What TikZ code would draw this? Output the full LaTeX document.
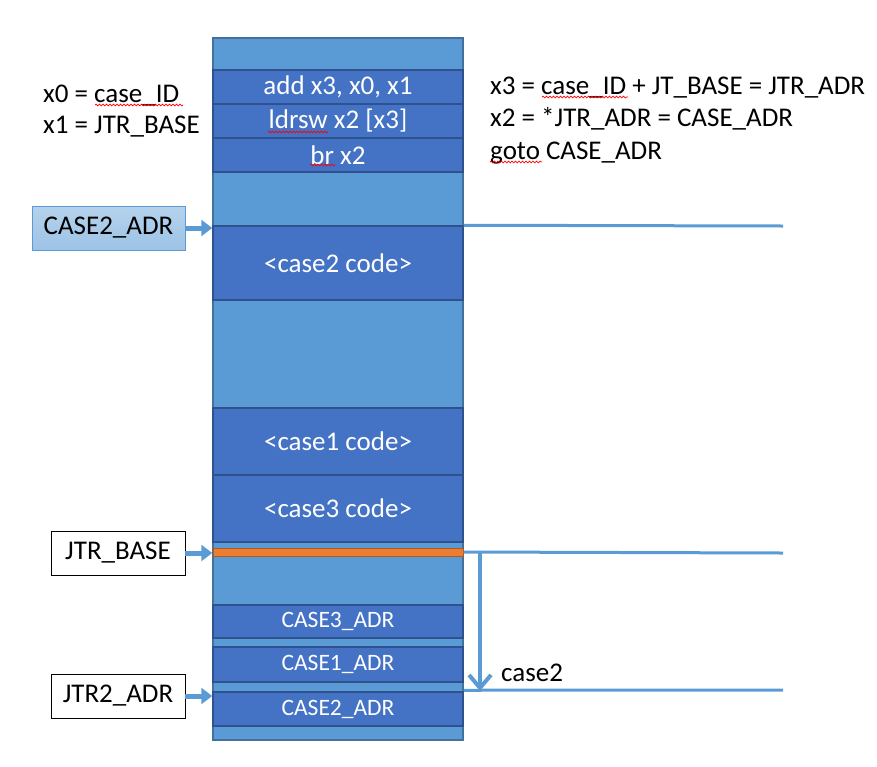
\documentclass[tikz,border=0pt]{standalone}
\usepackage{fontspec}
\setmainfont{Carlito}
\usetikzlibrary{arrows.meta}
\usetikzlibrary{decorations.pathmorphing}
\definecolor{memlight}{HTML}{5B9BD5}
\definecolor{memdark}{HTML}{4472C4}
\definecolor{memedge}{HTML}{2F528F}
\definecolor{coledge}{HTML}{41719C}
\definecolor{jtrorange}{HTML}{ED7D31}
\definecolor{jtredge}{HTML}{AE5A21}
\tikzset{memblk/.style={draw=memedge, line width=1.5pt, fill=memdark, text=white,
  minimum width=250pt, inner sep=0pt, font=\fontsize{27}{32}\selectfont}}
\tikzset{adrblk/.style={memblk, font=\fontsize{23.5}{28}\selectfont}}
\tikzset{lblbox/.style={draw=black, line width=0.8pt, fill=white, minimum width=134pt,
  minimum height=44pt, inner sep=0pt, font=\fontsize{27}{32}\selectfont}}
\tikzset{ptr/.style={memlight, line width=5pt, -{Triangle[length=11pt,width=16pt]}}}
\tikzset{rline/.style={memlight, line width=3pt}}
\tikzset{note/.style={anchor=base west, inner sep=0pt, font=\fontsize{27}{32}\selectfont}}
\tikzset{spell/.style={red, line width=0.7pt, decorate,
  decoration={snake, amplitude=0.9pt, segment length=3.5pt}}}

\begin{document}
\begin{tikzpicture}[x=1pt, y=-1pt]
      \useasboundingbox (0,0) rectangle (877,766);

      \node [draw=coledge, fill=memlight, line width=1.5pt, minimum width=250pt, minimum height=702pt, inner sep=0pt] (mem) at (338,389) {};

      \node [memblk, minimum height=34pt] (addblk) at (338,87) {add x3, x0, x1};
      \node [memblk, minimum height=34pt] (ldrblk) at (338,121) {ldrsw x2 [x3]};
      \node [memblk, minimum height=34pt] (brblk) at (338,155) {br x2};
      \node [memblk, minimum height=74pt] (c2code) at (338,263) {<case2 code>};
      \node [memblk, minimum height=67pt] (c1code) at (338,441.5) {<case1 code>};
      \node [memblk, minimum height=67pt] (c3code) at (338,508.5) {<case3 code>};
      \node [draw=jtredge, fill=jtrorange, line width=1pt, minimum width=250pt, minimum height=8pt, inner sep=0pt] (jtrband) at (338,552) {};
      \node [adrblk, minimum height=33pt] (c3adr) at (338,621.5) {CASE3\_ADR};
      \node [adrblk, minimum height=35pt] (c1adr) at (338,664.5) {CASE1\_ADR};
      \node [adrblk, minimum height=34pt] (c2adr) at (338,709) {CASE2\_ADR};

      \node [lblbox, draw=memlight, top color=memlight!45, bottom color=memlight!60, minimum width=153pt] (c2lbl) at (108.5,228) {CASE2\_ADR};
      \node [lblbox] (jtrlbl) at (118,553) {JTR\_BASE};
      \node [lblbox] (jtr2lbl) at (118,696) {JTR2\_ADR};

      \draw [ptr] (c2lbl.east) -- (c2lbl.east -| mem.west);
      \draw [ptr] (jtrlbl.east) -- (jtrlbl.east -| mem.west);
      \draw [ptr] (jtr2lbl.east) -- (jtr2lbl.east -| mem.west);

      \coordinate (c2end) at (783,226);
      \coordinate (jtrend) at (783,553);
      \coordinate (jtr2end) at (783,690);
      \draw [rline] (c2code.north east) -- (c2end);
      \draw [rline] (jtrband.east) -- (jtrend);
      \draw [rline] (c2adr.north east) ++(0,-1) -- (jtr2end);

      \coordinate (offtop) at (480,553);
      \coordinate (offbot) at (480,691);
      \draw [memlight, line width=4pt, -{Straight Barb[length=13pt,width=22pt,line width=4pt]}] (offtop) -- (offbot);
      \node [note] (offlbl) at (501,681) {case2};

      \node [note] (x0def) at (43,102) {x0 = case\_ID};
      \node [note] (x1def) at (43,133) {x1 = JTR\_BASE};
      \node [note] (x3def) at (490,94) {x3 = case\_ID + JT\_BASE = JTR\_ADR};
      \node [note] (x2def) at (490,126) {x2 = *JTR\_ADR = CASE\_ADR};
      \node [note] (gotodef) at (490,159) {goto CASE\_ADR};

      \draw [spell] (95,105) -- (183,105);
      \draw [spell] (268,132) -- (328,132);
      \draw [spell] (310,165) -- (335,165);
      \draw [spell] (542,97) -- (628,97);
      \draw [spell] (490,162) -- (542,162);

    \end{tikzpicture}
\end{document}
